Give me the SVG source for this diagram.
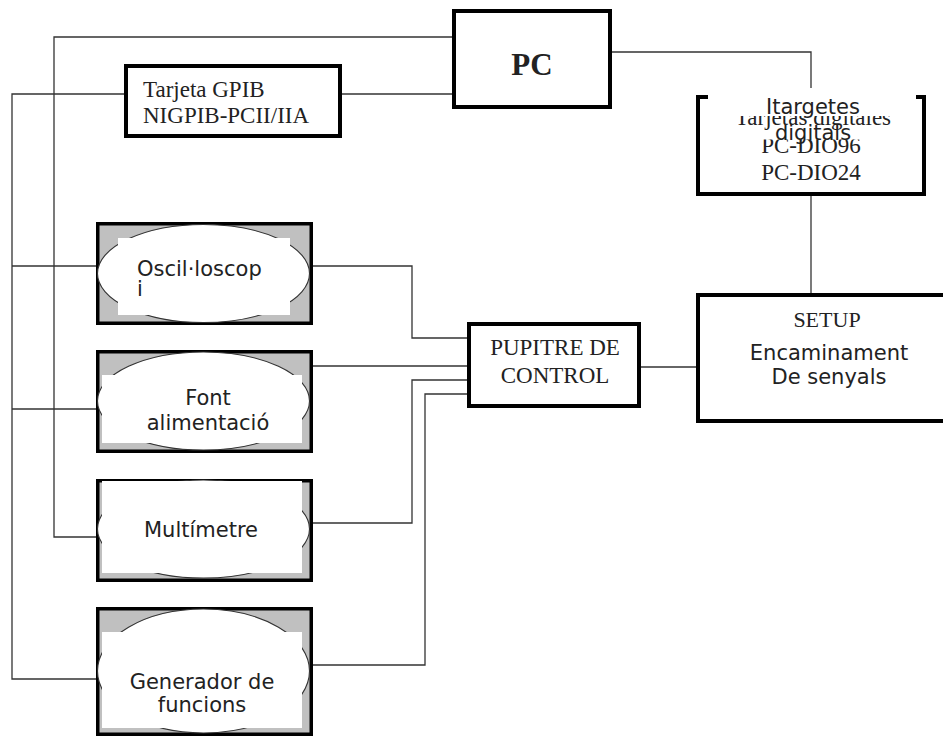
<svg xmlns="http://www.w3.org/2000/svg" width="943" height="736" viewBox="0 0 943 736">
  <style>
    .box { fill: #ffffff; stroke: #000000; stroke-width: 4; }
    .inst { fill: #c0c0c0; stroke: #000000; stroke-width: 3.5; }
    .oval { fill: #ffffff; stroke: #333333; stroke-width: 1.1; }
    .blank { fill: #ffffff; stroke: none; }
    .wire { fill: none; stroke: #333333; stroke-width: 1.3; }
    .serif { font-family: "Liberation Serif", "Times New Roman", serif; fill: #222222; }
    .sans { font-family: "DejaVu Sans", "Noto Sans", sans-serif; font-size: 21px; fill: #222222; }
  </style>
  <defs>
    <clipPath id="clipTarjetas"><rect x="700" y="116" width="230" height="20"/></clipPath>
    <clipPath id="clipDio96"><rect x="700" y="139.5" width="230" height="20"/></clipPath>
  </defs>
  <rect width="943" height="736" fill="#ffffff"/>

  <!-- connectors -->
  <g id="connectors">
    <path class="wire" d="M452,37 H54 V537 H97"/>
    <path class="wire" d="M124,94 H12 V679 H97"/>
    <path class="wire" d="M12,266 H97"/>
    <path class="wire" d="M12,409 H97"/>
    <path class="wire" d="M342,94 H452"/>
    <path class="wire" d="M612,52 H811 V88"/>
    <path class="wire" d="M811,195 V294"/>
    <path class="wire" d="M641,367 H697"/>
    <path class="wire" d="M313,266 H412 V338 H467"/>
    <path class="wire" d="M313,366 H467"/>
    <path class="wire" d="M313,523 H412 V380 H467"/>
    <path class="wire" d="M313,665 H425 V394 H467"/>
  </g>

  <!-- PC -->
  <g id="pc">
    <rect class="box" x="454" y="11" width="156" height="96"/>
    <text class="serif" x="532" y="75" font-size="31" font-weight="bold" text-anchor="middle">PC</text>
  </g>

  <!-- GPIB card -->
  <g id="gpib">
    <rect class="box" x="126" y="66" width="214" height="70"/>
    <text class="serif" x="143" y="97" font-size="23">Tarjeta GPIB</text>
    <text class="serif" x="143" y="123" font-size="23">NIGPIB-PCII/IIA</text>
  </g>

  <!-- digital I/O cards -->
  <g id="digital-cards">
    <path d="M708,97 H698 V194 H924 V97 H916" fill="#ffffff" stroke="#000000" stroke-width="4"/>
    <text class="serif" x="813" y="125" font-size="23" text-anchor="middle" clip-path="url(#clipTarjetas)">Tarjetas digitales</text>
    <text class="serif" x="811" y="153" font-size="23" text-anchor="middle" clip-path="url(#clipDio96)">PC-DIO96</text>
    <text class="serif" x="811" y="180" font-size="23" text-anchor="middle">PC-DIO24</text>
    <text class="sans" x="813" y="114" text-anchor="middle">Itargetes</text>
    <text class="sans" x="813" y="140" text-anchor="middle">digitals</text>
  </g>

  <!-- SETUP -->
  <g id="setup">
    <rect class="box" x="698" y="295" width="270" height="126"/>
    <text class="serif" x="827" y="327" font-size="22" text-anchor="middle">SETUP</text>
    <text class="sans" x="829" y="360" text-anchor="middle">Encaminament</text>
    <text class="sans" x="829" y="384" text-anchor="middle">De senyals</text>
  </g>

  <!-- control desk -->
  <g id="pupitre">
    <rect class="box" x="469" y="324" width="170" height="82"/>
    <text class="serif" x="555" y="355" font-size="23" text-anchor="middle">PUPITRE DE</text>
    <text class="serif" x="555" y="383" font-size="23" text-anchor="middle">CONTROL</text>
  </g>

  <!-- instruments -->
  <g id="osciloscopi">
    <rect class="inst" x="97.75" y="223.75" width="213.5" height="99.5"/>
    <ellipse class="oval" cx="203.5" cy="273.5" rx="106" ry="49"/>
    <rect class="blank" x="118" y="238" width="172" height="77"/>
    <text class="sans" x="137" y="276">Oscil·loscop</text>
    <text class="sans" x="137" y="296">i</text>
  </g>

  <g id="font-alimentacio">
    <rect class="inst" x="97.75" y="351.75" width="213.5" height="99.5"/>
    <ellipse class="oval" cx="203.5" cy="401" rx="106" ry="49"/>
    <rect class="blank" x="102" y="375" width="200" height="68"/>
    <text class="sans" x="208" y="405" text-anchor="middle">Font</text>
    <text class="sans" x="208" y="430" text-anchor="middle">alimentació</text>
  </g>

  <g id="multimetre">
    <rect class="inst" x="97.75" y="480.75" width="213.5" height="99.5"/>
    <ellipse class="oval" cx="203.5" cy="529" rx="106" ry="49"/>
    <rect class="blank" x="102" y="481" width="200" height="92"/>
    <text class="sans" x="201" y="537" text-anchor="middle">Multímetre</text>
  </g>

  <g id="generador">
    <rect class="inst" x="97.75" y="608.75" width="213.5" height="125.5"/>
    <ellipse class="oval" cx="203.5" cy="671" rx="106" ry="62"/>
    <rect class="blank" x="102" y="632" width="200" height="96"/>
    <text class="sans" x="202" y="689" text-anchor="middle">Generador de</text>
    <text class="sans" x="202" y="712" text-anchor="middle">funcions</text>
  </g>
</svg>
